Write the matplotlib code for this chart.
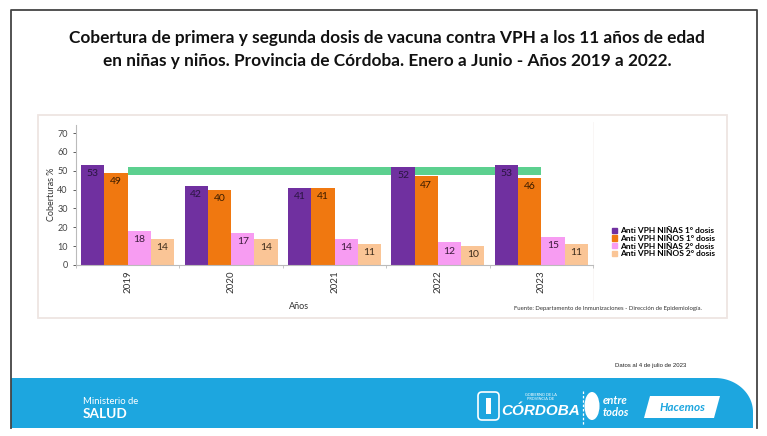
import matplotlib.pyplot as plt
import matplotlib.patches as mpatches
import numpy as np

plt.rcParams['font.family'] = ['Lato', 'DejaVu Sans']

# data
years = ["2019", "2020", "2021", "2022", "2023"]
series_names = ["Anti VPH NIÑAS 1° dosis", "Anti VPH NIÑOS 1° dosis",
                "Anti VPH NIÑAS 2° dosis", "Anti VPH NIÑOS 2° dosis"]
ninas_1 = [53, 42, 41, 52, 53]
ninos_1 = [49, 40, 41, 47, 46]
ninas_2 = [18, 17, 14, 12, 15]
ninos_2 = [14, 14, 11, 10, 11]
band_low, band_high = 47.5, 52   # green reference band
yticks = [0, 10, 20, 30, 40, 50, 60, 70]

colors = ["#7030A0", "#F07810", "#F79CF2", "#FAC596"]
label_colors = ["#2a1540", "#3a1c00", "#3a1a3a", "#3a2a1a"]

W, H = 767, 436
fig = plt.figure(figsize=(W / 100, H / 100), dpi=100)

# background / decoration axes in pixel coords
bg = fig.add_axes([0, 0, 1, 1], zorder=0)
bg.set_xlim(0, W)
bg.set_ylim(H, 0)
bg.axis('off')

# outer frame (left, top, right)
bg.plot([11, 11, 757, 757], [428, 10, 10, 428], color="#444444", lw=1.3)

# title
bg.text(387, 38, "Cobertura de primera y segunda dosis de vacuna contra VPH a los 11 años de edad",
        ha='center', va='center', fontsize=12.4, fontweight='bold', color="#111111")
bg.text(387, 61, "en niñas y niños. Provincia de Córdoba. Enero a Junio - Años 2019 a 2022.",
        ha='center', va='center', fontsize=12.4, fontweight='bold', color="#111111")

# chart box
bg.add_patch(mpatches.Rectangle((38, 115), 689, 203, fill=False, edgecolor="#EEE5E2", lw=1.3))
bg.plot([593, 593], [122, 300], color="#F8F5F4", lw=0.6)

bg.text(299, 306, "Años", ha='center', va='center', fontsize=6.5, color="#333333")
bg.text(608, 308, "Fuente: Departamento de Inmunizaciones - Dirección de Epidemiología.",
        ha='center', va='center', fontsize=4.3, color="#333333")
bg.text(651, 365, "Datos al 4 de julio de 2023", ha='center', va='center',
        fontsize=4.3, color="#222222", family=['Liberation Sans Narrow', 'Liberation Sans'])

# blue footer with rounded top right corner
blue = "#1DA6DF"
r_x, r_y = 38, 34
theta = np.linspace(np.pi / 2, 0, 30)
arc_x = (753 - r_x) + r_x * np.cos(theta)
arc_y = (378 + r_y) - r_y * np.sin(theta)
fx = np.concatenate([[11], arc_x, [753, 11]])
fy = np.concatenate([[378], arc_y, [428, 428]])
bg.add_patch(mpatches.Polygon(np.column_stack([fx, fy]), closed=True, facecolor=blue, edgecolor='none'))

bg.text(83, 401, "Ministerio de", ha='left', va='center', fontsize=6.8, color="white")
bg.text(83, 414, "SALUD", ha='left', va='center', fontsize=9.8, fontweight='bold', color="white")

# Córdoba logo (approx.)
bg.add_patch(mpatches.FancyBboxPatch((479, 393), 19, 26, boxstyle="round,pad=1,rounding_size=4",
                                     fill=False, edgecolor="white", lw=1.2))
bg.add_patch(mpatches.Rectangle((486, 398), 5, 16, facecolor="white", edgecolor='none'))
bg.text(541, 397, "GOBIERNO DE LA\nPROVINCIA DE", ha='center', va='center', fontsize=2.8,
        color="white", linespacing=0.9)
bg.text(541, 411, "CÓRDOBA", ha='center', va='center', fontsize=11, fontweight='bold',
        color="white", style='italic', family=['Liberation Sans Narrow', 'Liberation Sans'])
bg.plot([583, 583], [391, 425], color="white", lw=0.9, ls=(0, (2, 1.5)))
bg.add_patch(mpatches.Ellipse((592, 406), 15, 28, facecolor="white", edgecolor='none'))
bg.text(603, 400, "entre", ha='left', va='center', fontsize=8, fontweight='bold',
        style='italic', color="white")
bg.text(603, 412, "todos", ha='left', va='center', fontsize=8, fontweight='bold',
        style='italic', color="white")
bg.add_patch(mpatches.Polygon([[650, 396], [720, 396], [714, 418], [644, 418]], closed=True,
                              facecolor="white", edgecolor='none'))
bg.text(682, 407, "Hacemos", ha='center', va='center', fontsize=8.5, fontweight='bold',
        style='italic', color=blue)

# chart axes
y0, y70 = 265, 133
px_per_unit = (y0 - y70) / 70
ymax = 74.5
top = y0 - ymax * px_per_unit
ax = fig.add_axes([76 / W, 1 - y0 / H, (593 - 76) / W, (y0 - top) / H], zorder=1)
ax.patch.set_alpha(0)

x = np.arange(len(years))
bw = 0.225
all_series = [ninas_1, ninos_1, ninas_2, ninos_2]

ax.fill_between([x[0], x[-1]], band_low, band_high, color="#5CD08F", zorder=1, lw=0)

for i, vals in enumerate(all_series):
    pos = x + (i - 1.5) * bw
    ax.bar(pos, vals, bw, color=colors[i], zorder=2, label=series_names[i])
    for p, v in zip(pos, vals):
        ax.text(p, v - 4.6, str(v), ha='center', va='center', fontsize=7.5,
                color=label_colors[i], zorder=3)

ax.set_xlim(-0.5, len(years) - 0.5)
ax.set_ylim(0, ymax)
ax.set_yticks(yticks)
ax.set_xticks(x)
ax.set_xticklabels(years, rotation=90, fontsize=7, color="#333333")
ax.tick_params(axis='y', labelsize=6.5, colors="#444444", length=2, width=0.6, pad=4)
ax.tick_params(axis='x', length=0, pad=4)
ax.set_xticks(np.arange(-0.5, len(years)), minor=True)
ax.tick_params(axis='x', which='minor', length=2, color="#bbbbbb")
for s in ['top', 'right']:
    ax.spines[s].set_visible(False)
ax.spines['left'].set_color("#bbbbbb")
ax.spines['bottom'].set_color("#bbbbbb")
ax.set_ylabel("Coberturas %", fontsize=6.5, color="#333333", labelpad=1)

leg_handles = [mpatches.Patch(color=c) for c in colors]
fig.legend(leg_handles, series_names, loc='upper left',
           bbox_to_anchor=(608 / W, 1 - 223 / H), frameon=False,
           prop={'size': 6.0, 'weight': 'bold'}, handlelength=0.6, handleheight=0.6,
           handletextpad=0.3, labelspacing=0.08, borderpad=0)

fig.savefig("out.png", dpi=100)
